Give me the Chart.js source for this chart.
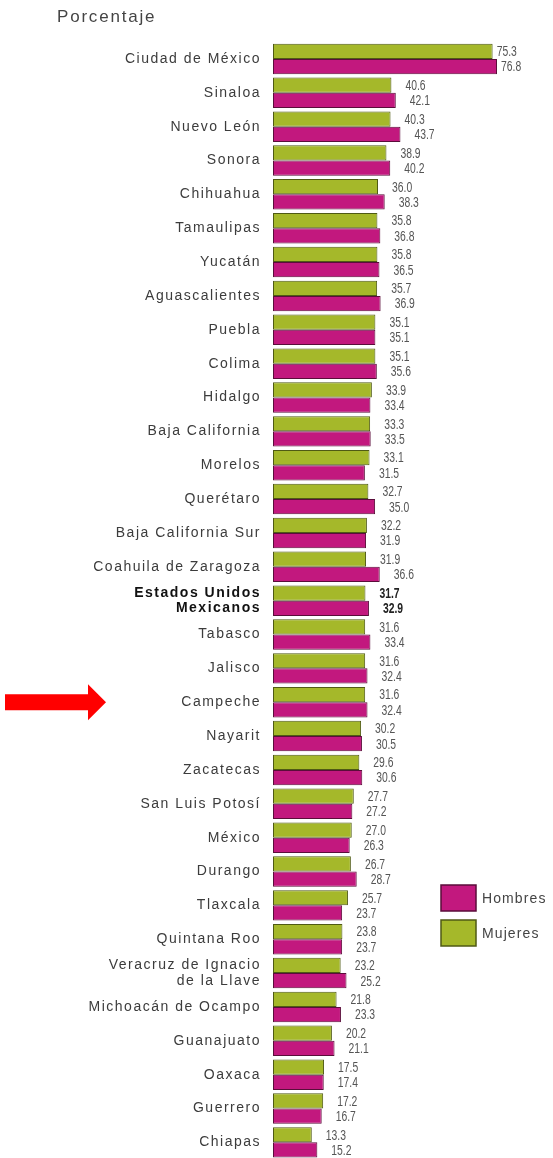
<!DOCTYPE html>
<html>
<head>
<meta charset="utf-8">
<script src="https://cdn.jsdelivr.net/npm/chart.js@4.4.1/dist/chart.umd.min.js"></script>
<style>
  html, body { margin: 0; padding: 0; background: #fff; overflow: hidden; }
  #wrap { position: relative; width: 553px; height: 1171px; }
</style>
</head>
<body>
<div id="wrap"><canvas id="porcentaje-chart"></canvas></div>
<script>
const categorias = [
  "Ciudad de México", "Sinaloa", "Nuevo León", "Sonora", "Chihuahua", "Tamaulipas",
  "Yucatán", "Aguascalientes", "Puebla", "Colima", "Hidalgo", "Baja California",
  "Morelos", "Querétaro", "Baja California Sur", "Coahuila de Zaragoza",
  ["Estados Unidos", "Mexicanos"], "Tabasco", "Jalisco", "Campeche", "Nayarit",
  "Zacatecas", "San Luis Potosí", "México", "Durango", "Tlaxcala", "Quintana Roo",
  ["Veracruz de Ignacio", "de la Llave"], "Michoacán de Ocampo", "Guanajuato",
  "Oaxaca", "Guerrero", "Chiapas"
];
const mujeres = [75.3, 40.6, 40.3, 38.9, 36.0, 35.8, 35.8, 35.7, 35.1, 35.1, 33.9, 33.3,
  33.1, 32.7, 32.2, 31.9, 31.7, 31.6, 31.6, 31.6, 30.2, 29.6, 27.7, 27.0, 26.7, 25.7,
  23.8, 23.2, 21.8, 20.2, 17.5, 17.2, 13.3];
const hombres = [76.8, 42.1, 43.7, 40.2, 38.3, 36.8, 36.5, 36.9, 35.1, 35.6, 33.4, 33.5,
  31.5, 35.0, 31.9, 36.6, 32.9, 33.4, 32.4, 32.4, 30.5, 30.6, 27.2, 26.3, 28.7, 23.7,
  23.7, 25.2, 23.3, 21.1, 17.4, 16.7, 15.2];
const nacional = 16;   // Estados Unidos Mexicanos
const marcado = 19;    // Campeche (flecha)

const SANS = "'Liberation Sans', Arial, sans-serif";

// etiquetas de valor al final de cada barra (letra estrecha)
const valueLabels = {
  id: "valueLabels",
  afterDatasetsDraw(chart) {
    const ctx = chart.ctx;
    chart.data.datasets.forEach((ds, di) => {
      chart.getDatasetMeta(di).data.forEach((bar, i) => {
        const v = ds.data[i];
        const off = v > 60 ? 4 : 14;
        ctx.save();
        ctx.letterSpacing = "0px";
        ctx.font = (i === nacional ? "bold " : "") + "14px " + SANS;
        ctx.fillStyle = i === nacional ? "#222" : "#555";
        ctx.textAlign = "left";
        ctx.textBaseline = "middle";
        ctx.translate(bar.x + off, bar.y + 1);
        ctx.scale(0.74, 1);
        ctx.fillText(v.toFixed(1), 0, 0);
        ctx.restore();
      });
    });
  }
};

// titulo, leyenda y flecha
const extras = {
  id: "extras",
  afterDraw(chart) {
    const ctx = chart.ctx;
    ctx.save();
    ctx.letterSpacing = "1.8px";
    ctx.fillStyle = "#444";
    ctx.font = "17px " + SANS;
    ctx.textBaseline = "middle";
    ctx.fillText("Porcentaje", 57, 17);

    ctx.letterSpacing = "1.1px";
    ctx.font = "14px " + SANS;
    const items = [chart.data.datasets[1], chart.data.datasets[0]];
    items.forEach((ds, k) => {
      const y = 885 + k * 35;
      ctx.fillStyle = ds.backgroundColor;
      ctx.strokeStyle = ds.borderColor;
      ctx.lineWidth = 1.5;
      ctx.fillRect(441, y, 35, 26);
      ctx.strokeRect(441, y, 35, 26);
      ctx.fillStyle = "#444";
      ctx.fillText(ds.label, 482, y + 14);
    });

    const yc = chart.scales.y.getPixelForValue(marcado);
    ctx.fillStyle = "#ff0000";
    ctx.beginPath();
    ctx.moveTo(5, yc - 8);
    ctx.lineTo(88, yc - 8);
    ctx.lineTo(88, yc - 18);
    ctx.lineTo(106, yc);
    ctx.lineTo(88, yc + 18);
    ctx.lineTo(88, yc + 8);
    ctx.lineTo(5, yc + 8);
    ctx.closePath();
    ctx.fill();
    ctx.restore();
  }
};

const spacing = {
  id: "spacing",
  beforeDraw(chart) { chart.ctx.letterSpacing = "1.5px"; },
  afterDraw(chart) { chart.ctx.letterSpacing = "0px"; }
};

new Chart(document.getElementById("porcentaje-chart"), {
  type: "bar",
  data: {
    labels: categorias,
    datasets: [
      {
        label: "Mujeres",
        data: mujeres,
        backgroundColor: "#a5b82a",
        borderColor: "#4f5a14",
        borderWidth: 1,
        borderSkipped: false,
        categoryPercentage: 0.9,
        barPercentage: 1
      },
      {
        label: "Hombres",
        data: hombres,
        backgroundColor: "#c2187e",
        borderColor: "#5a0d3a",
        borderWidth: 1,
        borderSkipped: false,
        categoryPercentage: 0.9,
        barPercentage: 1
      }
    ]
  },
  options: {
    indexAxis: "y",
    responsive: true,
    maintainAspectRatio: false,
    animation: false,
    layout: { padding: { top: 42, bottom: 0, left: 0, right: 0 } },
    scales: {
      x: {
        display: false,
        min: 0,
        max: 96
      },
      y: {
        afterFit(scale) { scale.width = 273; },
        grid: { display: false },
        border: { display: false },
        ticks: {
          padding: 4,
          autoSkip: false,
          color: (c) => c.index === nacional ? "#111" : "#3c3c3c",
          font: (c) => ({
            family: SANS,
            size: 14,
            weight: c.index === nacional ? "bold" : "normal",
            lineHeight: 1.1
          })
        }
      }
    },
    plugins: {
      legend: { display: false },
      tooltip: { enabled: false }
    }
  },
  plugins: [spacing, valueLabels, extras]
});
</script>
</body>
</html>
